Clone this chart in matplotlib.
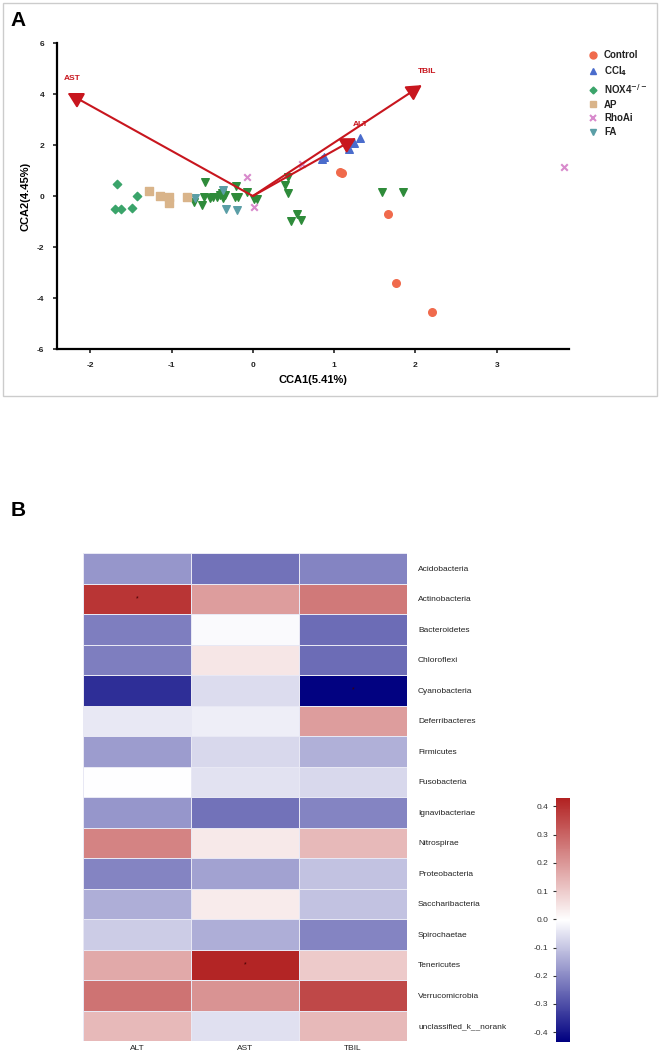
import numpy as np
import matplotlib
matplotlib.use("Agg")
import matplotlib.pyplot as plt
from matplotlib.colors import LinearSegmentedColormap
from matplotlib.patches import Rectangle

plt.rcParams['font.family'] = ['Liberation Sans', 'DejaVu Sans']
plt.rcParams['axes.unicode_minus'] = False
plt.rcParams['mathtext.default'] = 'bf'

# ---- panel A data (CCA scores) ----
control_x = [1.07, 1.10, 1.66, 1.76, 2.21]
control_y = [0.94, 0.90, -0.71, -3.41, -4.55]
ccl4_x = [0.85, 0.87, 1.18, 1.25, 1.32]
ccl4_y = [1.45, 1.53, 1.84, 2.08, 2.27]
nox4_x = [-1.67, -1.43, -1.69, -1.62, -1.49]
nox4_y = [0.47, 0.00, -0.51, -0.51, -0.47]
ap_x = [-1.28, -1.14, -1.03, -1.03, -0.81]
ap_y = [0.20, 0.00, -0.04, -0.27, -0.04]
rhoa_x = [-0.07, 0.02, 0.60, 3.83]
rhoa_y = [0.75, -0.43, 1.27, 1.14]
fa_x = [-0.71, -0.37, -0.33, -0.20]
fa_y = [-0.08, 0.24, -0.51, -0.55]
other_x = [-0.59, -0.60, -0.62, -0.73, -0.53, -0.49, -0.44, -0.41, -0.38, -0.37,
           -0.34, -0.21, -0.22, -0.18, -0.07, 0.01, 0.05, 0.43, 0.39, 0.43,
           0.47, 0.54, 0.59, 1.59, 1.85]
other_y = [0.55, -0.04, -0.35, -0.24, -0.08, -0.04, -0.04, 0.04, 0.12, -0.08,
           0.04, 0.39, -0.04, -0.04, 0.16, -0.12, -0.12, 0.75, 0.43, 0.12,
           -0.98, -0.71, -0.94, 0.16, 0.16]

env_names = ["AST", "TBIL", "ALT"]
env_x = [-2.28, 2.08, 1.27]
env_y = [4.04, 4.35, 2.27]

# ---- panel B data (correlations) ----
phyla = ["Acidobacteria", "Actinobacteria", "Bacteroidetes", "Chloroflexi",
         "Cyanobacteria", "Deferribacteres", "Firmicutes", "Fusobacteria",
         "Ignavibacteriae", "Nitrospirae", "Proteobacteria", "Saccharibacteria",
         "Spirochaetae", "Tenericutes", "Verrucomicrobia", "unclassified_k__norank"]
factors = ["ALT", "AST", "TBIL"]
alt_r = [-0.18, 0.39, -0.22, -0.22, -0.355, -0.04, -0.17, -0.005,
         -0.18, 0.24, -0.21, -0.14, -0.09, 0.165, 0.27, 0.135]
ast_r = [-0.24, 0.19, -0.01, 0.045, -0.06, -0.03, -0.07, -0.05,
         -0.24, 0.04, -0.16, 0.035, -0.14, 0.42, 0.21, -0.055]
tbil_r = [-0.21, 0.26, -0.25, -0.25, -0.43, 0.19, -0.135, -0.07,
          -0.21, 0.135, -0.105, -0.105, -0.21, 0.10, 0.355, 0.135]
stars = [("Actinobacteria", "ALT"), ("Cyanobacteria", "TBIL"), ("Tenericutes", "AST")]

fig = plt.figure(figsize=(6.61, 10.57), dpi=100)

# frame round panel A
fig.patches.append(Rectangle((0.004, 0.625), 0.99, 0.372, transform=fig.transFigure,
                             fill=False, edgecolor="#cccccc", linewidth=1))

ax = fig.add_axes([0.0862, 0.6698, 0.7746, 0.2895])
ax.scatter(other_x, other_y, marker="v", s=30, color="#2e8b3a", zorder=3)
ax.scatter(fa_x, fa_y, marker="v", s=30, color="#5a9ea6", zorder=3)
ax.scatter(control_x, control_y, marker="o", s=30, color="#f06a4c", zorder=3)
ax.scatter(ccl4_x, ccl4_y, marker="^", s=30, color="#4a6ccc", zorder=3)
ax.scatter(nox4_x, nox4_y, marker="D", s=18, color="#3aa46a", zorder=3)
ax.scatter(ap_x, ap_y, marker="s", s=30, color="#d9b48a", zorder=3)
ax.scatter(rhoa_x, rhoa_y, marker="x", s=22, color="#d88acc", linewidths=1.5, zorder=3)

for name, ex, ey in zip(env_names, env_x, env_y):
    ax.annotate("", xy=(ex, ey), xytext=(0, 0),
                arrowprops=dict(arrowstyle="-|>,head_length=0.9,head_width=0.5",
                                color="#c8161e", lw=1.5, shrinkA=0, shrinkB=0,
                                mutation_scale=10), zorder=4)
    ax.text(ex + 0.06, ey + 0.55, name, color="#c8161e", fontsize=6, fontweight="bold",
            ha="center", va="center", zorder=5)

ax.set_xlim(-2.41, 3.89)
ax.set_ylim(-6, 6)
ax.set_xticks([-2, -1, 0, 1, 2, 3])
ax.set_yticks([-6, -4, -2, 0, 2, 4, 6])
for s in ["top", "right"]:
    ax.spines[s].set_visible(False)
for s in ["left", "bottom"]:
    ax.spines[s].set_linewidth(1.6)
ax.tick_params(direction="out", length=3, width=1.2, labelsize=6, colors="#222222", pad=6)
for lab in ax.get_xticklabels() + ax.get_yticklabels():
    lab.set_fontweight("bold")
ax.set_xlabel("CCA1(5.41%)", fontsize=8, fontweight="bold", labelpad=5)
ax.set_ylabel("CCA2(4.45%)", fontsize=8, fontweight="bold", labelpad=5)

# legend
handles = [
    plt.Line2D([], [], marker="o", ls="", color="#f06a4c", ms=5),
    plt.Line2D([], [], marker="^", ls="", color="#4a6ccc", ms=5),
    plt.Line2D([], [], marker="D", ls="", color="#3aa46a", ms=3.5),
    plt.Line2D([], [], marker="s", ls="", color="#d9b48a", ms=5),
    plt.Line2D([], [], marker="x", ls="", color="#d88acc", ms=5, mew=1.5),
    plt.Line2D([], [], marker="v", ls="", color="#5a9ea6", ms=5),
]
labels = ["Control", "CCl$_4$", "NOX4$^{-/-}$", "AP", "RhoAi", "FA"]
leg = fig.legend(handles, labels, loc="upper left", bbox_to_anchor=(0.883, 0.957),
                 frameon=False, fontsize=7, handletextpad=0.6, labelspacing=0.4,
                 handlelength=1.0, borderpad=0)
for t in leg.get_texts():
    t.set_fontweight("bold")
    t.set_color("#222222")

fig.text(0.016, 0.981, "A", fontsize=15, fontweight="bold", va="center")
fig.text(0.016, 0.517, "B", fontsize=15, fontweight="bold", va="center")

# ---- panel B heatmap ----
cmap = LinearSegmentedColormap.from_list("cor", ["#000080", "#ffffff", "#b22222"])
mat = np.array([alt_r, ast_r, tbil_r]).T
hx = fig.add_axes([0.1256, 0.0151, 0.490, 0.4617])
mesh = hx.pcolormesh(mat, cmap=cmap, vmin=-0.435, vmax=0.43,
                     edgecolors="#e8e8f4", linewidth=0.6)
hx.set_xlim(0, 3)
hx.set_ylim(len(phyla), 0)
hx.set_xticks(np.arange(3) + 0.5)
hx.set_xticklabels(factors, fontsize=6, color="#222222")
hx.set_yticks(np.arange(len(phyla)) + 0.5)
hx.set_yticklabels(phyla, fontsize=6, color="#222222")
hx.yaxis.tick_right()
hx.tick_params(length=0, pad=8)
hx.tick_params(axis="x", pad=3)
for s in hx.spines.values():
    s.set_visible(False)
for ph, fc in stars:
    hx.text(factors.index(fc) + 0.5, phyla.index(ph) + 0.5, "*", fontsize=5,
            ha="center", va="center", color="#400000")

cax = fig.add_axes([0.841, 0.0142, 0.0212, 0.2308])
cb = fig.colorbar(mesh, cax=cax, ticks=[-0.4, -0.3, -0.2, -0.1, 0.0, 0.1, 0.2, 0.3, 0.4])
cb.outline.set_visible(False)
cax.yaxis.set_ticks_position("left")
cax.tick_params(labelsize=6, length=2, colors="#333333")
cb.ax.set_yticklabels(["-0.4", "-0.3", "-0.2", "-0.1", "0.0", "0.1", "0.2", "0.3", "0.4"])

fig.savefig("out.png", dpi=100)
